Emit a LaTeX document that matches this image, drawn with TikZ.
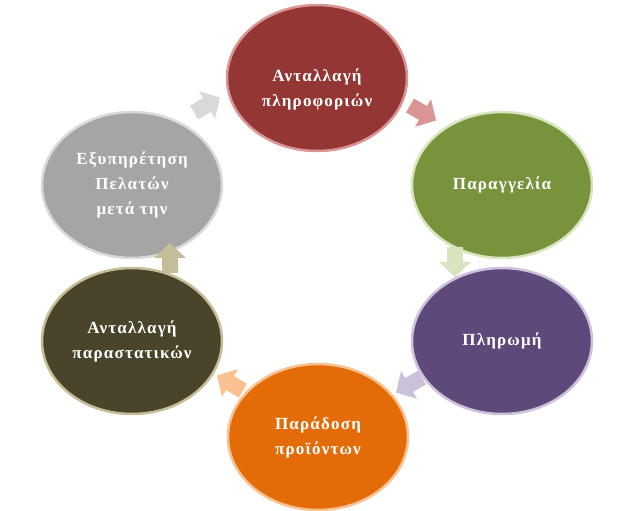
\documentclass[tikz,border=0pt]{standalone}
\usepackage{fontspec}
\setmainfont{Liberation Serif}
\usetikzlibrary{shapes.geometric}
\definecolor{infoF}{HTML}{943634}\definecolor{infoL}{HTML}{D99694}
\definecolor{orderF}{HTML}{77933C}\definecolor{orderL}{HTML}{D7E4BD}
\definecolor{payF}{HTML}{5F497A}\definecolor{payL}{HTML}{CCC1DA}
\definecolor{delivF}{HTML}{E36C09}\definecolor{delivL}{HTML}{FAC090}
\definecolor{docsF}{HTML}{4A442A}\definecolor{docsL}{HTML}{C4BD97}
\definecolor{servF}{HTML}{A5A5A5}\definecolor{servL}{HTML}{D9D9D9}

\begin{document}
\begin{tikzpicture}[x=1pt,y=1pt,
  stage/.style={ellipse,minimum width=180pt,minimum height=146pt,line width=2.5pt,
    align=center,text=white,
    font=\bfseries\fontsize{17}{25}\selectfont\addfontfeature{LetterSpace=7}}]
  \useasboundingbox (0,0) rectangle (635,511);
  % στάδια
  \node[stage,fill=infoF,draw=infoL,text height=60pt] (info) at (317,433) {Ανταλλαγή\\πληροφοριών};
  \node[stage,fill=orderF,draw=orderL] (order) at (502,326) {Παραγγελία};
  \node[stage,fill=payF,draw=payL] (pay) at (502,170) {Πληρωμή};
  \node[stage,fill=delivF,draw=delivL] (deliv) at (318,74) {Παράδοση\\προϊόντων};
  \node[stage,fill=docsF,draw=docsL] (docs) at (132,170) {Ανταλλαγή\\παραστατικών};
  \node[stage,fill=servF,draw=servL] (serv) at (132,326) {Εξυπηρέτηση\\Πελατών\\μετά την};
  % βέλη
  \foreach \x/\y/\a/\c in {423/398/-30/infoL,455/249/-90/orderL,409/126/210/payL,
                           230/128/150/delivL,170/253/90/docsL,207/406/30/servL}
    \fill[\c,shift={(\x,\y)},rotate=\a] (-15,-8) -- (0,-8) -- (0,-16) -- (15,0)
      -- (0,16) -- (0,8) -- (-15,8) -- cycle;
\end{tikzpicture}
\end{document}
